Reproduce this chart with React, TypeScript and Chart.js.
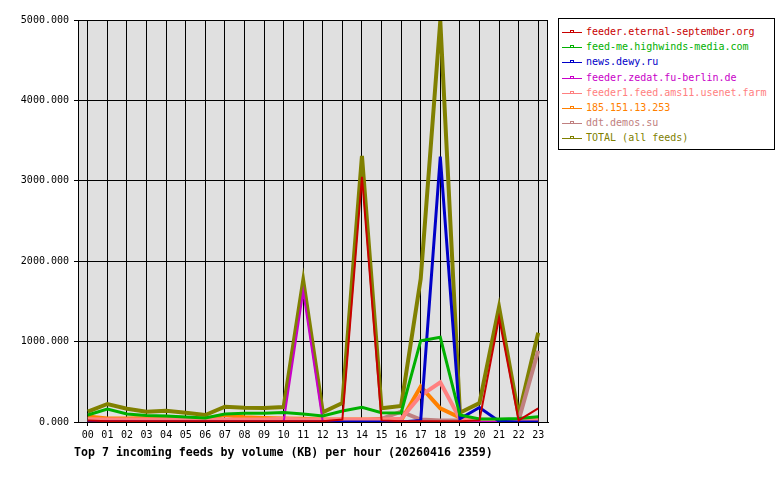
import React, { useEffect, useRef } from "react";
import { Chart, registerables } from "chart.js";

Chart.register(...registerables);

const hours = ["00","01","02","03","04","05","06","07","08","09","10","11","12","13","14","15","16","17","18","19","20","21","22","23"];

const feedNames = [
  "feeder.eternal-september.org",
  "feed-me.highwinds-media.com",
  "news.dewy.ru",
  "feeder.zedat.fu-berlin.de",
  "feeder1.feed.ams11.usenet.farm",
  "185.151.13.253",
  "ddt.demos.su",
  "TOTAL (all feeds)",
];

const feedColors = ["#c80000", "#00b000", "#0000c8", "#c800c8", "#ff8080", "#ff8000", "#c08080", "#808000"];
const feedWidths = [2, 3, 3, 2, 4, 4, 4, 4];

const eternalSeptember = [20, 10, 10, 10, 10, 10, 10, 10, 10, 10, 10, 10, 10, 30, 3050, 20, 10, 10, 10, 10, 20, 1300, 20, 170];
const highwinds = [87, 162, 100, 80, 75, 62, 50, 100, 108, 108, 118, 100, 75, 137, 182, 116, 112, 1011, 1053, 87, 37, 37, 45, 66];
const dewy = [0, 0, 0, 0, 0, 0, 0, 0, 0, 0, 0, 0, 0, 0, 0, 0, 0, 20, 3300, 40, 180, 10, 0, 0];
const zedat = [0, 5, 5, 0, 0, 0, 0, 0, 0, 0, 0, 1620, 0, 0, 0, 0, 5, 5, 0, 0, 0, 0, 0, 0];
const ams11 = [35, 30, 30, 30, 30, 30, 30, 30, 30, 30, 40, 30, 30, 30, 30, 30, 40, 330, 494, 40, 30, 25, 25, 25];
const ip185 = [70, 45, 45, 50, 66, 50, 40, 87, 60, 50, 45, 40, 30, 30, 30, 30, 20, 440, 170, 54, 25, 20, 20, 20];
const ddtDemos = [20, 20, 20, 20, 20, 20, 20, 20, 20, 20, 20, 20, 20, 20, 20, 40, 128, 30, 20, 20, 20, 20, 20, 887];
const totalAll = [130, 224, 165, 128, 140, 116, 87, 190, 178, 174, 186, 1760, 120, 236, 3310, 170, 200, 1780, 4990, 116, 236, 1430, 85, 1110];

const seriesValues = [eternalSeptember, highwinds, dewy, zedat, ams11, ip185, ddtDemos, totalAll];

const yTicks = [0, 1000, 2000, 3000, 4000, 5000];
const titleText = "Top 7 incoming feeds by volume (KB) per hour (20260416 2359)";

const MONO = "'DejaVu Sans Mono', 'Liberation Mono', monospace";

const plotFrame = {
  id: "plotFrame",
  beforeDraw(chart: any) {
    const { ctx, chartArea } = chart;
    ctx.save();
    ctx.fillStyle = "#e0e0e0";
    ctx.fillRect(chartArea.left, chartArea.top, chartArea.right - chartArea.left, chartArea.bottom - chartArea.top);
    ctx.restore();
  },
  afterDraw(chart: any) {
    const { ctx, chartArea } = chart;
    ctx.save();
    ctx.strokeStyle = "#000";
    ctx.lineWidth = 1;
    ctx.strokeRect(chartArea.left + 0.5, chartArea.top + 0.5, chartArea.right - chartArea.left - 1, chartArea.bottom - chartArea.top);
    ctx.restore();
  },
};

export default function App() {
  const ref = useRef<HTMLCanvasElement | null>(null);

  useEffect(() => {
    if (!ref.current) return;
    const chart = new Chart(ref.current, {
      type: "line",
      data: {
        labels: hours,
        datasets: feedNames.map((name, i) => ({
          label: name,
          data: seriesValues[i],
          borderColor: feedColors[i],
          backgroundColor: feedColors[i],
          borderWidth: feedWidths[i],
          pointRadius: 0,
          tension: 0,
          fill: false,
        })),
      },
      options: {
        responsive: false,
        animation: false,
        layout: { padding: { left: 0, top: 20, right: 232, bottom: 0 } },
        plugins: {
          legend: { display: false },
          tooltip: { enabled: false },
          title: { display: false },
        },
        scales: {
          x: {
            offset: true,
            grid: {
              color: "#000",
              lineWidth: 1,
              tickLength: 4,
              drawOnChartArea: true,
              offset: false,
            },
            border: { display: true, color: "#000" },
            ticks: {
              color: "#000",
              font: { family: MONO, size: 10 },
              padding: 3,
              maxRotation: 0,
              autoSkip: false,
            },
            afterFit(scale: any) {
              scale.height = 58;
            },
          },
          y: {
            min: 0,
            max: 5000,
            afterBuildTicks(scale: any) {
              scale.ticks = yTicks.map((v) => ({ value: v }));
            },
            grid: { color: "#000", lineWidth: 1, tickLength: 4 },
            border: { display: true, color: "#000" },
            ticks: {
              color: "#000",
              font: { family: MONO, size: 10 },
              padding: 5,
              callback: (v: any) => Number(v).toFixed(3),
            },
            afterFit(scale: any) {
              scale.width = 78;
            },
          },
        },
      },
      plugins: [plotFrame],
    });
    return () => chart.destroy();
  }, []);

  return (
    <div style={{ position: "absolute", left: 0, top: 0, width: 780, height: 480, background: "#fff" }}>
      <canvas ref={ref} width={780} height={480} style={{ position: "absolute", left: 0, top: 0 }} />
      <div
        style={{
          position: "absolute",
          left: 558,
          top: 18,
          width: 215,
          height: 130,
          border: "1px solid #000",
          background: "#fff",
          fontFamily: MONO,
          fontSize: 10,
        }}
      >
        {feedNames.map((name, i) => (
          <div
            key={name}
            style={{ position: "absolute", left: 0, top: 6 + i * 15.2, height: 14, width: 215, whiteSpace: "nowrap" }}
          >
            <div style={{ position: "absolute", left: 3, top: 7, width: 20, height: 1, background: feedColors[i] }} />
            <div
              style={{
                position: "absolute",
                left: 11,
                top: 5,
                width: 2,
                height: 1,
                border: `1px solid ${feedColors[i]}`,
                borderBottom: "none",
              }}
            />
            <span style={{ position: "absolute", left: 27, top: 1, color: feedColors[i], lineHeight: "12px" }}>{name}</span>
          </div>
        ))}
      </div>
      <div
        style={{
          position: "absolute",
          left: 74,
          top: 444,
          fontFamily: MONO,
          fontWeight: "bold",
          fontSize: 11.6,
          color: "#000",
          whiteSpace: "nowrap",
          lineHeight: "16px",
        }}
      >
        {titleText}
      </div>
    </div>
  );
}
